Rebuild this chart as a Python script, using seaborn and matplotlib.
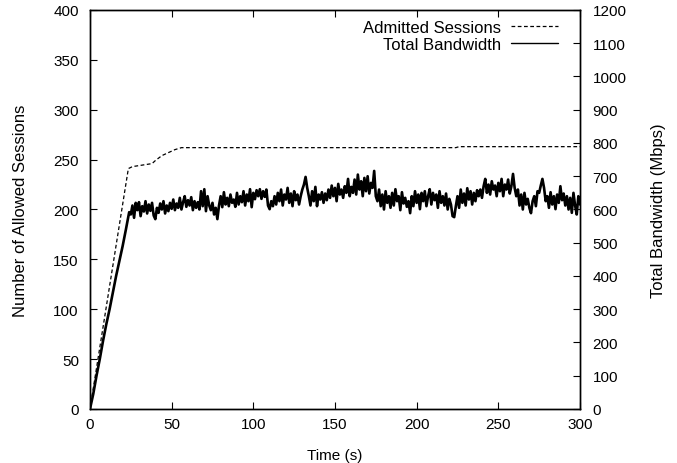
import matplotlib as mpl
mpl.use('Agg')
import matplotlib.pyplot as plt
import numpy as np
import pandas as pd
import seaborn as sns

# admitted sessions (left axis)
sess_t = [0, 23.5, 26, 30, 34, 38, 40, 44, 48, 52, 56, 224, 226, 300]
sess_n = [0, 241, 243, 244, 245, 246, 249, 254, 257, 260, 262, 262, 263, 263]

# total bandwidth (right axis), ramp then one value per second from t=25
ramp_t = [0, 2, 4, 6, 8, 10, 12, 14, 16, 18, 20, 22, 24]
ramp_bw = [0, 45, 100, 150, 205, 255, 300, 350, 400, 445, 490, 540, 592]
bw_vals = [
    585, 612, 575, 620, 598, 622, 580, 610, 594, 625,
    588, 615, 596, 620, 582, 571, 605, 590, 618, 600,
    625, 588, 612, 595, 620, 602, 630, 598, 618, 605,
    635, 600, 622, 640, 608, 628, 612, 637, 598, 625,
    605, 622, 600, 655, 610, 661, 595, 640, 612, 598,
    620, 585, 605, 571, 612, 640, 607, 652, 615, 635,
    610, 645, 620, 630, 608, 650, 615, 640, 622, 655,
    612, 645, 625, 661, 607, 650, 631, 658, 640, 661,
    632, 655, 638, 660, 612, 601, 625, 610, 640, 615,
    650, 625, 660, 612, 645, 630, 665, 620, 648, 610,
    655, 628, 645, 615, 640, 660, 675, 698, 665, 640,
    612, 655, 625, 668, 610, 645, 630, 652, 620, 648,
    628, 660, 635, 672, 640, 665, 625, 677, 645, 660,
    635, 670, 650, 692, 640, 668, 650, 690, 645, 705,
    660, 685, 640, 695, 655, 700, 648, 680, 665, 716,
    640, 625, 660, 610, 645, 600, 655, 620, 640, 605,
    650, 612, 661, 625, 640, 598, 652, 618, 635, 608,
    625, 589, 640, 610, 655, 620, 645, 601, 650, 625,
    655, 610, 640, 661, 615, 650, 628, 645, 605, 655,
    620, 640, 612, 648, 600, 632, 615, 580, 577, 610,
    640, 605, 660, 620, 648, 612, 664, 630, 655, 615,
    650, 625, 658, 640, 660, 635, 670, 692, 650, 675,
    645, 685, 660, 672, 640, 680, 655, 692, 640, 675,
    660, 690, 648, 670, 707, 665, 640, 660, 612, 645,
    600, 650, 615, 632, 605, 589, 625, 640, 610, 655,
    650, 672, 692, 665, 625, 640, 605, 652, 615, 640,
    601, 645, 620, 670, 628, 648, 612, 640, 600, 635,
    590, 650, 612, 585, 640, 615,
]

sns.set_theme(style='ticks')
plt.rcParams['font.family'] = ['Liberation Sans', 'DejaVu Sans']
plt.rcParams['xtick.direction'] = 'in'
plt.rcParams['ytick.direction'] = 'in'
for k in ('text.color', 'axes.labelcolor', 'xtick.color', 'ytick.color'):
    plt.rcParams[k] = 'black'

sess = pd.DataFrame({'t': sess_t, 'n': sess_n})
bw = pd.DataFrame({'t': ramp_t + list(range(25, 301)), 'bw': ramp_bw + bw_vals})

fig = plt.figure(figsize=(6.77, 4.64), dpi=100)
ax = fig.add_axes([0.1329, 0.1164, 0.7238, 0.8599])
ax2 = ax.twinx()

sns.lineplot(data=sess, x='t', y='n', ax=ax, color='black', lw=0.9, label='Admitted Sessions', legend=False)
ax.lines[0].set_dashes((3, 2))
sns.lineplot(data=bw, x='t', y='bw', ax=ax2, color='black', lw=1.9, label='Total Bandwidth', legend=False)

ax.set_xlim(0, 300)
ax.set_ylim(0, 400)
ax2.set_ylim(0, 1200)
ax.set_xticks(range(0, 301, 50))
ax.set_yticks(range(0, 401, 50))
ax2.set_yticks(range(0, 1201, 100))
ax.tick_params(axis='x', top=True, labelsize=11, length=5, width=0.8, pad=6)
ax.tick_params(axis='y', labelsize=11, length=5, width=0.8, pad=8)
ax2.tick_params(axis='y', labelsize=11, length=5, width=0.8, pad=9)
for a in (ax, ax2):
    for s in a.spines.values():
        s.set_visible(True)
        s.set_linewidth(1.0)
        s.set_color('black')

ax.set_xlabel('Time (s)', fontsize=11, labelpad=12)
ax.set_ylabel('Number of Allowed Sessions', fontsize=12, labelpad=18)
ax2.set_ylabel('Total Bandwidth (Mbps)', fontsize=12, labelpad=18)

handles = ax.lines[:1] + ax2.lines[:1]
leg = ax2.legend(handles, ['Admitted Sessions', 'Total Bandwidth'], loc='upper right',
                 bbox_to_anchor=(0.955, 0.975), frameon=False, markerfirst=False,
                 handlelength=2.8, handletextpad=0.6, fontsize=12,
                 borderaxespad=0, labelspacing=0.1, borderpad=0)
leg.get_lines()[1].set_linewidth(1.0)

fig.savefig('out.png', dpi=100)
